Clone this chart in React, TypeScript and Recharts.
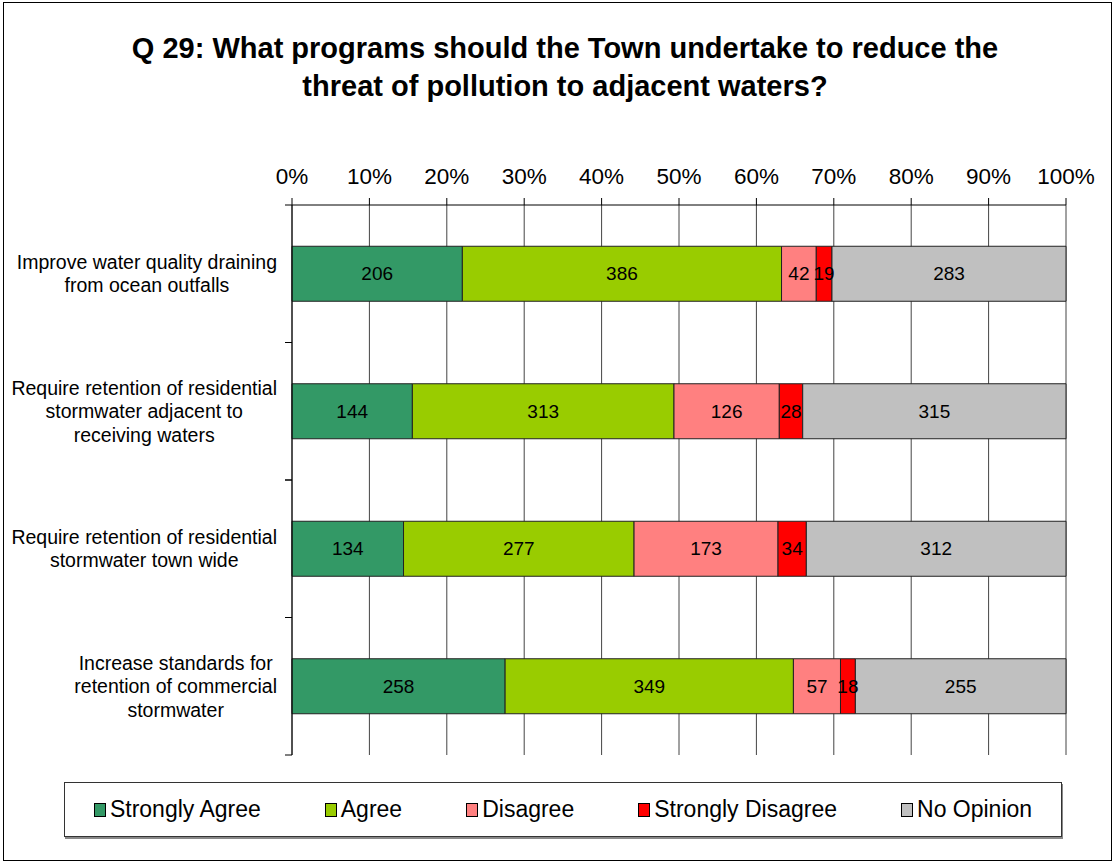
import * as React from "react";
import { Bar, BarChart, CartesianGrid, LabelList, XAxis, YAxis } from "recharts";

const CATEGORIES = [
  "Improve water quality draining\nfrom ocean outfalls",
  "Require retention of residential\nstormwater adjacent to\nreceiving waters",
  "Require retention of residential\nstormwater town wide",
  "Increase standards for\nretention of commercial\nstormwater",
];

const STRONGLY_AGREE = [206, 144, 134, 258];
const AGREE = [386, 313, 277, 349];
const DISAGREE = [42, 126, 173, 57];
const STRONGLY_DISAGREE = [19, 28, 34, 18];
const NO_OPINION = [283, 315, 312, 255];

const SERIES_NAMES = ["Strongly Agree", "Agree", "Disagree", "Strongly Disagree", "No Opinion"];
const SERIES_VALUES = [STRONGLY_AGREE, AGREE, DISAGREE, STRONGLY_DISAGREE, NO_OPINION];
// Classic Excel palette
const SERIES_COLORS = ["#339966", "#99cc00", "#ff8080", "#ff0000", "#c0c0c0"];

const PERCENT_TICKS = [0, 0.1, 0.2, 0.3, 0.4, 0.5, 0.6, 0.7, 0.8, 0.9, 1];

const FONT = "Arial, 'Liberation Sans', sans-serif";
const LABEL_SIZE = 19.5;
const LABEL_LINE = 23.5;

const CHART_W = 1113;
const CHART_H = 863;
const MARGIN = { top: 175, right: 47, bottom: 108, left: 0 };
const X_AXIS_H = 30;
const Y_AXIS_W = 292;
const PLOT_H = CHART_H - MARGIN.top - MARGIN.bottom - X_AXIS_H;
const HALF_BAND = PLOT_H / CATEGORIES.length / 2;

const rows = CATEGORIES.map((label, i) => {
  const row: Record<string, string | number> = { label };
  SERIES_NAMES.forEach((name, s) => {
    row[name] = SERIES_VALUES[s][i];
  });
  return row;
});

let measureCtx: CanvasRenderingContext2D | null = null;
function textWidth(s: string): number {
  if (!measureCtx) measureCtx = document.createElement("canvas").getContext("2d");
  if (!measureCtx) return s.length * LABEL_SIZE * 0.5;
  measureCtx.font = `${LABEL_SIZE}px Arial, 'Liberation Sans', sans-serif`;
  return measureCtx.measureText(s).width;
}

// Excel lays multi-line category labels out as a right-aligned block whose
// lines are centred against the widest one; tick marks sit between categories.
function CategoryTick(props: any) {
  const { x, y, payload } = props;
  const lines = String(payload.value).split("\n");
  const block = Math.max(...lines.map(textWidth));
  const cx = x - block / 2;
  const firstDy = -((lines.length - 1) / 2) * LABEL_LINE + LABEL_SIZE * 0.35;
  return (
    <g>
      <line x1={x + 8} x2={x + 15} y1={y - HALF_BAND} y2={y - HALF_BAND} stroke="#000" />
      <line x1={x + 8} x2={x + 15} y1={y + HALF_BAND} y2={y + HALF_BAND} stroke="#000" />
      <text x={cx} y={y} textAnchor="middle" fontSize={LABEL_SIZE} fill="#000" fontFamily={FONT}>
        {lines.map((l, i) => (
          <tspan key={i} x={cx} dy={i === 0 ? firstDy : LABEL_LINE}>
            {l}
          </tspan>
        ))}
      </text>
    </g>
  );
}

export default function App() {
  return (
    <div
      style={{
        position: "absolute",
        left: 0,
        top: 0,
        width: CHART_W,
        height: CHART_H,
        background: "#fff",
        fontFamily: FONT,
      }}
    >
      <div
        style={{
          position: "absolute",
          left: 3,
          top: 2,
          width: 1107,
          height: 857,
          border: "1px solid #000",
        }}
      />
      <div
        style={{
          position: "absolute",
          left: 17,
          top: 29,
          width: 1096,
          textAlign: "center",
          fontWeight: "bold",
          fontSize: 29,
          lineHeight: "38px",
          color: "#000",
        }}
      >
        Q 29: What programs should the Town undertake to reduce the
        <br />
        threat of pollution to adjacent waters?
      </div>
      <div style={{ position: "absolute", left: 0, top: 0 }}>
        <BarChart
          width={CHART_W}
          height={CHART_H}
          data={rows}
          layout="vertical"
          stackOffset="expand"
          margin={MARGIN}
          barCategoryGap="30%"
        >
          <CartesianGrid horizontal={false} stroke="#444" strokeWidth={1} />
          <XAxis
            type="number"
            orientation="top"
            domain={[0, 1]}
            ticks={PERCENT_TICKS}
            tickFormatter={(v: number) => `${Math.round(v * 100)}%`}
            height={X_AXIS_H}
            tickSize={7}
            tickMargin={14}
            stroke="#000"
            tick={{ fill: "#000", fontSize: 22.5, fontFamily: FONT }}
          />
          <YAxis
            type="category"
            dataKey="label"
            width={Y_AXIS_W}
            tickLine={false}
            tickSize={7}
            tickMargin={8}
            stroke="#000"
            interval={0}
            tick={<CategoryTick />}
          />
          {SERIES_NAMES.map((name, i) => (
            <Bar
              key={name}
              dataKey={name}
              stackId="a"
              fill={SERIES_COLORS[i]}
              stroke="#222"
              strokeWidth={1}
              isAnimationActive={false}
            >
              <LabelList
                dataKey={name}
                position="center"
                fill="#000"
                stroke="none"
                fontSize={19}
                fontFamily={FONT}
              />
            </Bar>
          ))}
        </BarChart>
      </div>
      <div
        style={{
          position: "absolute",
          left: 64,
          top: 782,
          width: 996,
          height: 53,
          border: "1px solid #333",
          boxShadow: "1px 2px 0 #888",
          display: "flex",
          alignItems: "center",
          justifyContent: "center",
          gap: 64,
          fontSize: 23,
          color: "#000",
          background: "#fff",
        }}
      >
        {SERIES_NAMES.map((name, i) => (
          <div key={name} style={{ display: "flex", alignItems: "center", gap: 4 }}>
            <span
              style={{
                display: "inline-block",
                width: 10,
                height: 12,
                background: SERIES_COLORS[i],
                border: "1px solid #000",
              }}
            />
            <span>{name}</span>
          </div>
        ))}
      </div>
    </div>
  );
}
